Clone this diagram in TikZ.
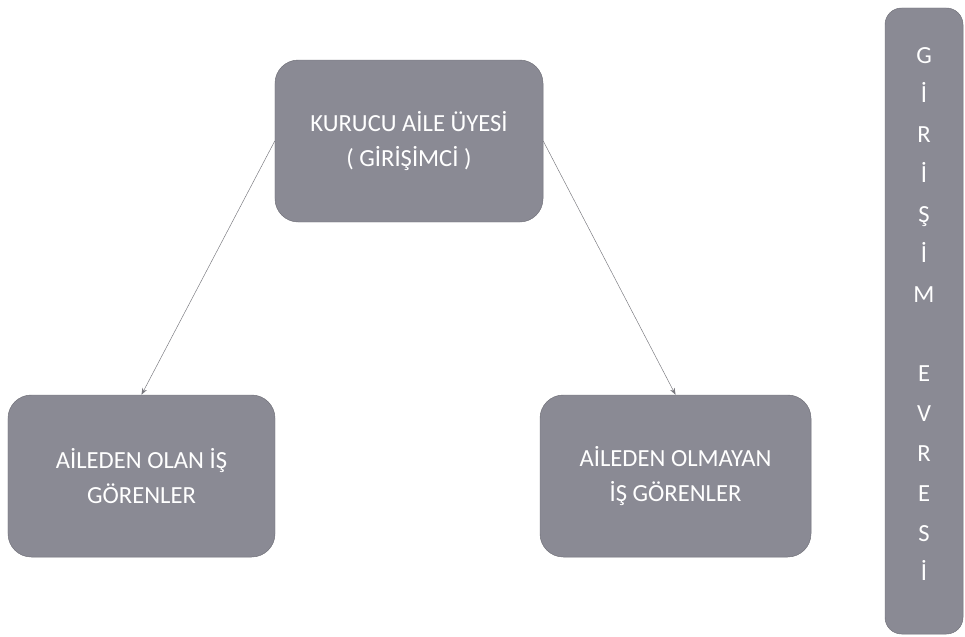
\documentclass[tikz,border=0pt]{standalone}
\usepackage{fontspec}
\setmainfont{Carlito}
\usetikzlibrary{arrows.meta, positioning}

\definecolor{boxgray}{RGB}{138,138,148}
\definecolor{rimgray}{RGB}{112,112,120}
\definecolor{linegray}{RGB}{120,120,126}

\begin{document}
\begin{tikzpicture}[x=0.03cm, y=-0.03cm,
  box/.style={draw=rimgray, fill=boxgray, rounded corners=7mm, text=white,
    align=center, font=\fontsize{21}{30}\selectfont, inner sep=0pt},
  arc/.style={-{Stealth[length=2mm]}, linegray, thin}]
  \useasboundingbox (0,0) rectangle (965,636);
  \node[box, minimum width=8.04cm, minimum height=4.86cm] (kurucu) at (409,141)
    {KURUCU AİLE ÜYESİ\\( GİRİŞİMCİ )};
  \node[box, minimum width=8.01cm, minimum height=4.86cm] (olan) at (141.5,476)
    {AİLEDEN OLAN İŞ\\GÖRENLER};
  \node[box, minimum width=8.13cm, minimum height=4.86cm] (olmayan) at (675.5,476)
    {AİLEDEN OLMAYAN\\İŞ GÖRENLER};
  \node[box, minimum width=2.34cm, minimum height=18.78cm, rounded corners=5mm] (evre) at (924,321) {};
  \node[text=white, align=center, font=\fontsize{21}{34}\selectfont] (harf) at (924,314)
    {G\\İ\\R\\İ\\Ş\\İ\\M\\[34pt]E\\V\\R\\E\\S\\İ};
  \draw[arc] (kurucu.west) -- (olan.north);
  \draw[arc] (kurucu.east) -- (olmayan.north);
\end{tikzpicture}
\end{document}
